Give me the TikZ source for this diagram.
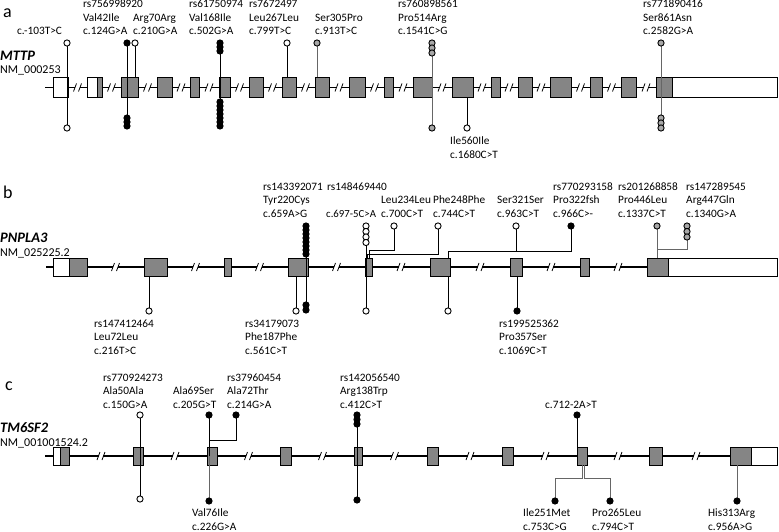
\documentclass[tikz,border=0pt]{standalone}
\usepackage{fontspec}
\setmainfont{Carlito}
\definecolor{exgray}{HTML}{858585}
\definecolor{cgray}{HTML}{A8A8A8}
\definecolor{lgray}{HTML}{666666}
\newcommand\brk[2]{%
  \fill[white] ({#1-2.2},{#2-2}) rectangle ({#1+2.2},{#2+2});
  \draw[line width=0.8pt] ({#1-4},{#2+4}) -- ({#1-1},{#2-4});
  \draw[line width=0.8pt] ({#1+1},{#2+4}) -- ({#1+4},{#2-4});}
\newcommand\lbls[4]{\foreach \t [count=\i] in {#4} \node[lbl] (#1-\i) at (#2,{#3+(\i-1)*13.5}) {\t};}
\newcommand\stk[6]{\foreach \i in {1,...,#4} \node[#6] (#1-\i) at (#2,{#3+(\i-1)*#5}) {};}
\begin{document}
\begin{tikzpicture}[x=1pt,y=-1pt,
  gene/.style={line width=1.8pt},
  exon/.style={draw=black,line width=0.9pt,fill=exgray},
  utr/.style={draw=black,line width=0.9pt,fill=white},
  stick/.style={line width=0.8pt,draw=black},
  gstick/.style={line width=0.8pt,draw=lgray},
  oc/.style={circle,draw=black,line width=0.9pt,fill=white,inner sep=0pt,minimum size=6.2pt},
  bc/.style={oc,fill=black},
  gc/.style={oc,fill=cgray},
  lbl/.style={font=\fontsize{11.3}{13}\selectfont,anchor=base west,inner sep=0pt},
  panel/.style={font=\fontsize{18}{20}\selectfont,anchor=base west,inner sep=0pt},
  gname/.style={font=\fontsize{14.5}{16}\selectfont\bfseries\itshape,anchor=base west,inner sep=0pt},
  nm/.style={font=\fontsize{12}{14}\selectfont,anchor=base west,inner sep=0pt}]
\useasboundingbox (0,0) rectangle (779,532);
\fill[white] (0,0) rectangle (779,532);
% ================= panel a =================
\node[panel] (pa) at (3,18) {a};
\node[gname] (ga) at (0,61) {MTTP};
\node[nm] (na) at (0,74) {NM\_000253};
\draw[gene] (45,87.5) -- (777,87.5);
\foreach \m in {77.5,111.5,147.5,181,209,239.5,272.5,305.5,339,374.5,403,442,482,509,541,580.5,611.5,646} \brk{\m}{87.5};
\draw[utr] (53,77.5) rectangle (68,97.5);
\draw[utr] (87,77.5) rectangle (97,97.5);
\draw[exon] (97,77.5) rectangle (102,97.5);
\foreach \l/\r in {121/138,157/172,190/199,219/230,249/263,282/296,315/329,349/365,384/393,413/432,452/473,491/500,518/532,550/571,590/602,621/636}
  \draw[exon] (\l,77.5) rectangle (\r,97.5);
\draw[exon] (656,77.5) rectangle (672,97.5);
\draw[utr] (672,77.5) rectangle (777.5,97.5);
\coordinate (a1t) at (67,43); \coordinate (a1b) at (67,128);
\coordinate (a2t) at (127,43); \coordinate (a2b) at (127,126);
\coordinate (a3t) at (135,43); \coordinate (a3e) at (135,77.5);
\coordinate (a4t) at (220,43); \coordinate (a4b) at (220,126);
\coordinate (a5t) at (287,43); \coordinate (a5e) at (287,77.5);
\coordinate (a6t) at (317,43); \coordinate (a6e) at (317,77.5);
\coordinate (a7t) at (432,43); \coordinate (a7b) at (432,128);
\coordinate (a8e) at (467,97.5); \coordinate (a8b) at (467,128);
\coordinate (a9t) at (661,43); \coordinate (a9b) at (661,128);
\draw[stick] (a1t) -- (a1b);
\draw[stick] (a2t) -- (a2b);
\draw[stick] (a3t) -- (a3e);
\draw[stick] (a4t) -- (a4b);
\draw[stick] (a5t) -- (a5e);
\draw[gstick] (a6t) -- (a6e);
\draw[gstick] (a7t) -- (a7b);
\draw[stick] (a8e) -- (a8b);
\draw[gstick] (a9t) -- (a9b);
\node[oc] (c1t) at (a1t) {}; \node[oc] (c1b) at (a1b) {};
\node[bc] (c2t) at (a2t) {}; \stk{c2b}{127}{118}{3}{4}{bc}
\node[oc] (c3t) at (a3t) {};
\stk{c4t}{220}{43}{3}{4}{bc} \stk{c4b}{220}{102}{7}{4}{bc}
\node[oc] (c5t) at (a5t) {};
\node[gc] (c6t) at (a6t) {};
\stk{c7t}{432}{43}{3}{5}{gc} \node[gc] (c7b) at (a7b) {};
\node[oc] (c8b) at (a8b) {};
\node[gc] (c9t) at (a9t) {}; \stk{c9b}{661}{118}{3}{5}{gc}
\lbls{la1}{17}{34.5}{c.-103T>C}
\lbls{la2}{83}{8}{rs756998920,Val42Ile,c.124G>A}
\lbls{la3}{133}{21.5}{Arg70Arg,c.210G>A}
\lbls{la4}{189}{8}{rs61750974,Val168Ile,c.502G>A}
\lbls{la5}{249}{8}{rs7672497,Leu267Leu,c.799T>C}
\lbls{la6}{315}{21.5}{Ser305Pro,c.913T>C}
\lbls{la7}{398}{8}{rs760898561,Pro514Arg,c.1541C>G}
\lbls{la8}{450}{145}{Ile560Ile,c.1680C>T}
\lbls{la9}{643}{8}{rs771890416,Ser861Asn,c.2582G>A}
% ================= panel b =================
\node[panel] (pb) at (3,198) {b};
\node[gname] (gb) at (0,242) {PNPLA3};
\node[nm] (nb) at (0,256) {NM\_025225.2};
\draw[gene] (46,267) -- (777,267);
\foreach \m in {115.5,195.5,259.5,336.5,401,480,551,618} \brk{\m}{267};
\draw[utr] (53,258) rectangle (69,276);
\draw[exon] (69,258) rectangle (87,276);
\foreach \l/\r in {144/167,224/231,288/308,365/372,430/450,510/522,580/589}
  \draw[exon] (\l,258) rectangle (\r,276);
\draw[exon] (647,258) rectangle (668,276);
\draw[utr] (668,258) rectangle (777.5,276);
\coordinate (b1t) at (306,226); \coordinate (b1b) at (306,310);
\coordinate (b2e) at (296,276); \coordinate (b2b) at (296,311);
\coordinate (b3t) at (366,226); \coordinate (b3b) at (366,311);
\coordinate (b4t) at (394,226); \coordinate (b4m) at (369,250); \coordinate (b4e) at (369,258);
\coordinate (b5t) at (438,226); \coordinate (b5m) at (367,254); \coordinate (b5e) at (367,258);
\coordinate (b6t) at (516,226); \coordinate (b6e) at (516,251);
\coordinate (b7t) at (571,226); \coordinate (b7m) at (448,251); \coordinate (b7e) at (448,258);
\coordinate (b8e) at (448,276); \coordinate (b8b) at (448,311);
\coordinate (b9e) at (517,276); \coordinate (b9b) at (517,311);
\coordinate (b10e) at (149,276); \coordinate (b10b) at (149,311);
\coordinate (b11t) at (657,226); \coordinate (b11e) at (657,258);
\coordinate (b12t) at (687,237); \coordinate (b12m) at (657,249);
\draw[stick] (b1t) -- (b1b);
\draw[stick] (b2e) -- (b2b);
\draw[stick] (b3t) -- (b3b);
\draw[stick] (b4t) |- (b4m) -- (b4e);
\draw[stick] (b5t) |- (b5m) -- (b5e);
\draw[stick] (b6t) -- (b6e);
\draw[stick] (b7t) |- (b7m) -- (b7e);
\draw[stick] (b8e) -- (b8b);
\draw[stick] (b9e) -- (b9b);
\draw[stick] (b10e) -- (b10b);
\draw[gstick] (b11t) -- (b11e);
\draw[gstick] (b12t) |- (b12m);
\stk{d1t}{306}{226}{8}{4}{bc} \stk{d1b}{306}{305}{2}{5}{bc}
\node[oc] (d2b) at (b2b) {};
\stk{d3t}{366}{226}{4}{5.5}{oc} \node[oc] (d3b) at (b3b) {};
\node[oc] (d4t) at (b4t) {};
\node[oc] (d5t) at (b5t) {};
\node[oc] (d6t) at (b6t) {};
\node[bc] (d7t) at (b7t) {};
\node[oc] (d8b) at (b8b) {};
\node[bc] (d9b) at (b9b) {};
\node[oc] (d10b) at (b10b) {};
\node[gc] (d11t) at (b11t) {};
\stk{d12t}{687}{226}{3}{5.5}{gc}
\lbls{lb1}{263}{190}{rs143392071,Tyr220Cys,c.659A>G}
\lbls{lb2}{327}{190}{rs148469440}
\node[lbl,font=\fontsize{10.8}{13}\selectfont] (lb3) at (326,217) {c.697-5C>A};
\lbls{lb4}{381}{203.5}{Leu234Leu,c.700C>T}
\lbls{lb5}{433}{203.5}{Phe248Phe,c.744C>T}
\lbls{lb6}{497}{203.5}{Ser321Ser,c.963C>T}
\lbls{lb7}{553}{190}{rs770293158,Pro322fsh,c.966C>-}
\lbls{lb8}{618}{190}{rs201268858,Pro446Leu,c.1337C>T}
\lbls{lb9}{686}{190}{rs147289545,Arg447Gln,c.1340G>A}
\lbls{lb10}{94}{327}{rs147412464,Leu72Leu,c.216T>C}
\lbls{lb11}{245}{327}{rs34179073,Phe187Phe,c.561C>T}
\lbls{lb12}{499}{327}{rs199525362,Pro357Ser,c.1069C>T}
% ================= panel c =================
\node[panel] (pc) at (5,390) {c};
\node[gname] (gc) at (0,432) {TM6SF2};
\node[nm] (nc) at (0,446.5) {NM\_001001524.2};
\draw[gene] (45,456) -- (777,456);
\foreach \m in {101,175,248.5,322.5,394.5,470,545,618,696} \brk{\m}{456};
\draw[utr] (53,447) rectangle (60,465);
\draw[exon] (60,447) rectangle (69,465);
\foreach \l/\r in {133/143,207/217,280/291,354/362,427/438,502/513,577/587,649/662}
  \draw[exon] (\l,447) rectangle (\r,465);
\draw[exon] (730,447) rectangle (751,465);
\draw[utr] (751,447) rectangle (777.5,465);
\coordinate (e1t) at (140,415); \coordinate (e1b) at (140,499);
\coordinate (e2t) at (209,415); \coordinate (e2b) at (209,501);
\coordinate (e3t) at (236,415); \coordinate (e3m) at (209,440);
\coordinate (e4t) at (357,415); \coordinate (e4b) at (357,500);
\coordinate (e5t) at (577,415); \coordinate (e5e) at (577,447);
\coordinate (e6b) at (555,501); \coordinate (e6m) at (582.5,478); \coordinate (e6e) at (582.5,465);
\coordinate (e7b) at (610,501); \coordinate (e7m) at (584.5,478); \coordinate (e7e) at (584.5,465);
\coordinate (e8e) at (737,465); \coordinate (e8b) at (737,501);
\draw[stick] (e1t) -- (e1b);
\draw[stick] (e2t) -- (209,456);
\draw[gstick] (209,456) -- (e2b);
\draw[stick] (e3t) |- (e3m);
\draw[stick] (e4t) -- (e4b);
\draw[stick] (e5t) -- (e5e);
\draw[gstick] (e6b) |- (e6m) -- (e6e);
\draw[gstick] (e7b) |- (e7m) -- (e7e);
\draw[gstick] (e8e) -- (e8b);
\node[oc] (f1t) at (e1t) {}; \node[oc] (f1b) at (e1b) {};
\node[bc] (f2t) at (e2t) {}; \node[bc] (f2b) at (e2b) {};
\node[bc] (f3t) at (e3t) {};
\stk{f4t}{357}{415}{3}{4.5}{bc} \node[bc] (f4b) at (e4b) {};
\node[bc] (f5t) at (e5t) {};
\node[bc] (f6b) at (e6b) {};
\node[bc] (f7b) at (e7b) {};
\node[bc] (f8b) at (e8b) {};
\lbls{lc1}{103}{381}{rs770924273,Ala50Ala,c.150G>A}
\lbls{lc2}{173}{394.5}{Ala69Ser,c.205G>T}
\lbls{lc3}{227}{381}{rs37960454,Ala72Thr,c.214G>A}
\lbls{lc4}{340}{381}{rs142056540,Arg138Trp,c.412C>T}
\lbls{lc5}{545}{408}{c.712-2A>T}
\lbls{lc6}{192}{516.5}{Val76Ile,c.226G>A}
\lbls{lc7}{523}{516.5}{Ile251Met,c.753C>G}
\lbls{lc8}{592}{516.5}{Pro265Leu,c.794C>T}
\lbls{lc9}{708}{516.5}{His313Arg,c.956A>G}
\end{tikzpicture}
\end{document}
